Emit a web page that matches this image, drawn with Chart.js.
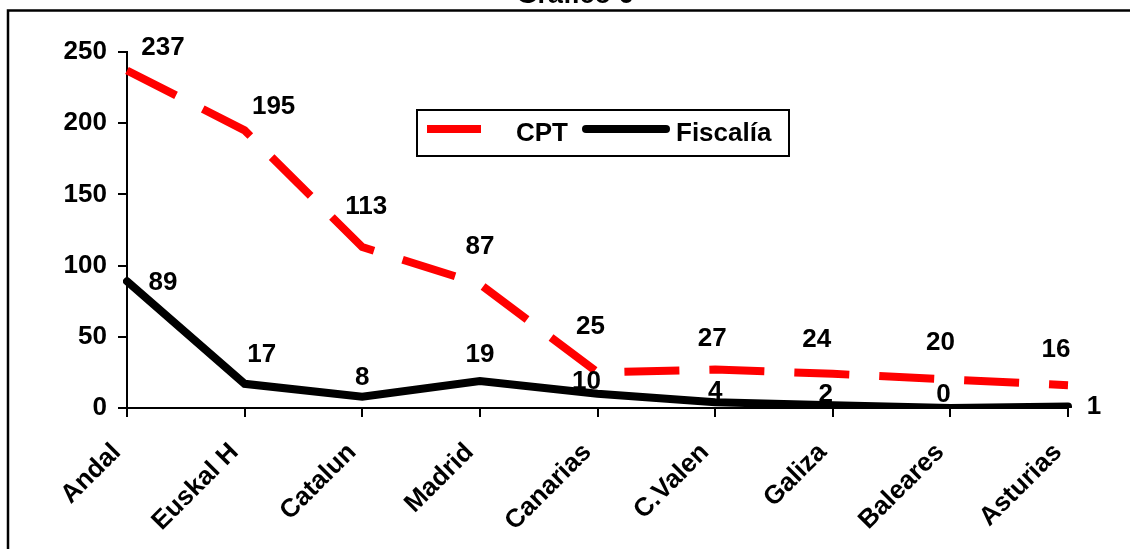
<!DOCTYPE html>
<html>
<head>
<meta charset="utf-8">
<script src="https://cdn.jsdelivr.net/npm/chart.js@4.4.1/dist/chart.umd.min.js"></script>
<style>
  html, body { margin: 0; padding: 0; background: #fff; }
  #wrap { width: 1130px; height: 549px; position: relative; }
</style>
</head>
<body>
<div id="wrap"><canvas id="c" width="1130" height="549"></canvas></div>
<script>
// Regions and counts per source
const regions = ['Andal', 'Euskal H', 'Catalun', 'Madrid', 'Canarias', 'C.Valen', 'Galiza', 'Baleares', 'Asturias'];
const cptValues = [237, 195, 113, 87, 25, 27, 24, 20, 16];
const fiscaliaValues = [89, 17, 8, 19, 10, 4, 2, 0, 1];
const yTickValues = [0, 50, 100, 150, 200, 250];
const chartTitle = 'Gráfico 6';

const FONT = '"Liberation Sans", Arial, Helvetica, sans-serif';
const FONT_SIZE = 26;
Chart.defaults.font.family = FONT;
Chart.defaults.font.weight = 'bold';
Chart.defaults.font.size = FONT_SIZE;
Chart.defaults.color = '#000';

// Where each value label sits relative to its point (dx, dy in px)
const labelOffsets = [
  [[36, -23], [29, -23], [4, -40], [0, -37], [-7, -46], [-3, -31], [-16, -34], [-10, -37], [-12, -35]],
  [[36, 2], [17, -29], [0, -19], [0, -26], [-11, -12], [0, -10], [-7, -10], [-7, -13], [26, 0]]
];

// Outer frame and the (partly cropped) heading
const framePlugin = {
  id: 'frame',
  beforeDraw(chart) {
    const ctx = chart.ctx;
    ctx.save();
    ctx.fillStyle = '#fff';
    ctx.fillRect(0, 0, chart.width, chart.height);
    ctx.strokeStyle = '#000';
    ctx.lineWidth = 2.5;
    ctx.strokeRect(8, 10.5, chart.width + 20, chart.height + 20);
    ctx.fillStyle = '#000';
    ctx.font = 'bold 27px ' + FONT;
    ctx.textAlign = 'center';
    ctx.textBaseline = 'alphabetic';
    ctx.fillText(chartTitle, 575, 3);
    ctx.restore();
  }
};

// Value labels next to each point
const valueLabelPlugin = {
  id: 'valueLabels',
  afterDatasetsDraw(chart) {
    const ctx = chart.ctx;
    ctx.save();
    ctx.fillStyle = '#000';
    ctx.font = 'bold ' + FONT_SIZE + 'px ' + FONT;
    ctx.textAlign = 'center';
    ctx.textBaseline = 'middle';
    chart.data.datasets.forEach((ds, di) => {
      const meta = chart.getDatasetMeta(di);
      meta.data.forEach((pt, i) => {
        const off = labelOffsets[di][i];
        ctx.fillText(String(ds.data[i]), pt.x + off[0], pt.y + off[1]);
      });
    });
    ctx.restore();
  }
};

// Boxed legend inside the plot
const boxLegendPlugin = {
  id: 'boxLegend',
  afterDraw(chart) {
    const ctx = chart.ctx;
    const ds = chart.data.datasets;
    ctx.save();
    ctx.strokeStyle = '#000';
    ctx.lineWidth = 2;
    ctx.fillStyle = '#fff';
    ctx.fillRect(417, 110, 372, 46);
    ctx.strokeRect(417, 110, 372, 46);
    const items = [
      { ds: ds[0], x1: 427, x2: 481, tx: 516 },
      { ds: ds[1], x1: 586, x2: 666, tx: 676 }
    ];
    items.forEach(it => {
      ctx.beginPath();
      ctx.strokeStyle = it.ds.borderColor;
      ctx.lineWidth = it.ds.borderWidth;
      ctx.lineCap = it.ds.borderCapStyle;
      ctx.moveTo(it.x1, 129);
      ctx.lineTo(it.x2, 129);
      ctx.stroke();
      ctx.fillStyle = '#000';
      ctx.font = 'bold ' + FONT_SIZE + 'px ' + FONT;
      ctx.textAlign = 'left';
      ctx.textBaseline = 'middle';
      ctx.fillText(it.ds.label, it.tx, 134);
    });
    ctx.restore();
  }
};

new Chart(document.getElementById('c'), {
  type: 'line',
  data: {
    labels: regions,
    datasets: [
      {
        label: 'CPT',
        data: cptValues,
        borderColor: '#ff0000',
        borderWidth: 8,
        borderDash: [55, 30],
        borderCapStyle: 'butt',
        borderJoinStyle: 'miter',
        pointRadius: 0,
        tension: 0,
        fill: false
      },
      {
        label: 'Fiscalía',
        data: fiscaliaValues,
        borderColor: '#000000',
        borderWidth: 8,
        borderCapStyle: 'round',
        borderJoinStyle: 'miter',
        pointRadius: 0,
        tension: 0,
        fill: false
      }
    ]
  },
  options: {
    responsive: false,
    animation: false,
    events: [],
    layout: { padding: { left: 10, right: 62, top: 52, bottom: 0 } },
    plugins: {
      legend: { display: false },
      title: { display: false },
      tooltip: { enabled: false }
    },
    scales: {
      x: {
        offset: false,
        afterFit(scale) { scale.height = 141; },
        grid: {
          drawOnChartArea: false,
          drawTicks: true,
          tickLength: 9,
          color: '#000',
          lineWidth: 2
        },
        border: { display: true, color: '#000', width: 2 },
        ticks: {
          minRotation: 45,
          maxRotation: 45,
          autoSkip: false,
          padding: 10,
          // trailing gap keeps the slanted names clear of the tick marks
          callback(value) { return this.getLabelForValue(value) + '  '; },
          font: { size: FONT_SIZE, weight: 'bold' },
          color: '#000'
        }
      },
      y: {
        min: 0,
        max: 250,
        afterFit(scale) { scale.width = 117; },
        afterBuildTicks(scale) { scale.ticks = yTickValues.map(v => ({ value: v })); },
        grid: {
          drawOnChartArea: false,
          drawTicks: true,
          tickLength: 9,
          color: '#000',
          lineWidth: 2
        },
        border: { display: true, color: '#000', width: 2 },
        ticks: {
          padding: 11,
          font: { size: FONT_SIZE, weight: 'bold' },
          color: '#000'
        }
      }
    }
  },
  plugins: [framePlugin, valueLabelPlugin, boxLegendPlugin]
});
</script>
</body>
</html>
